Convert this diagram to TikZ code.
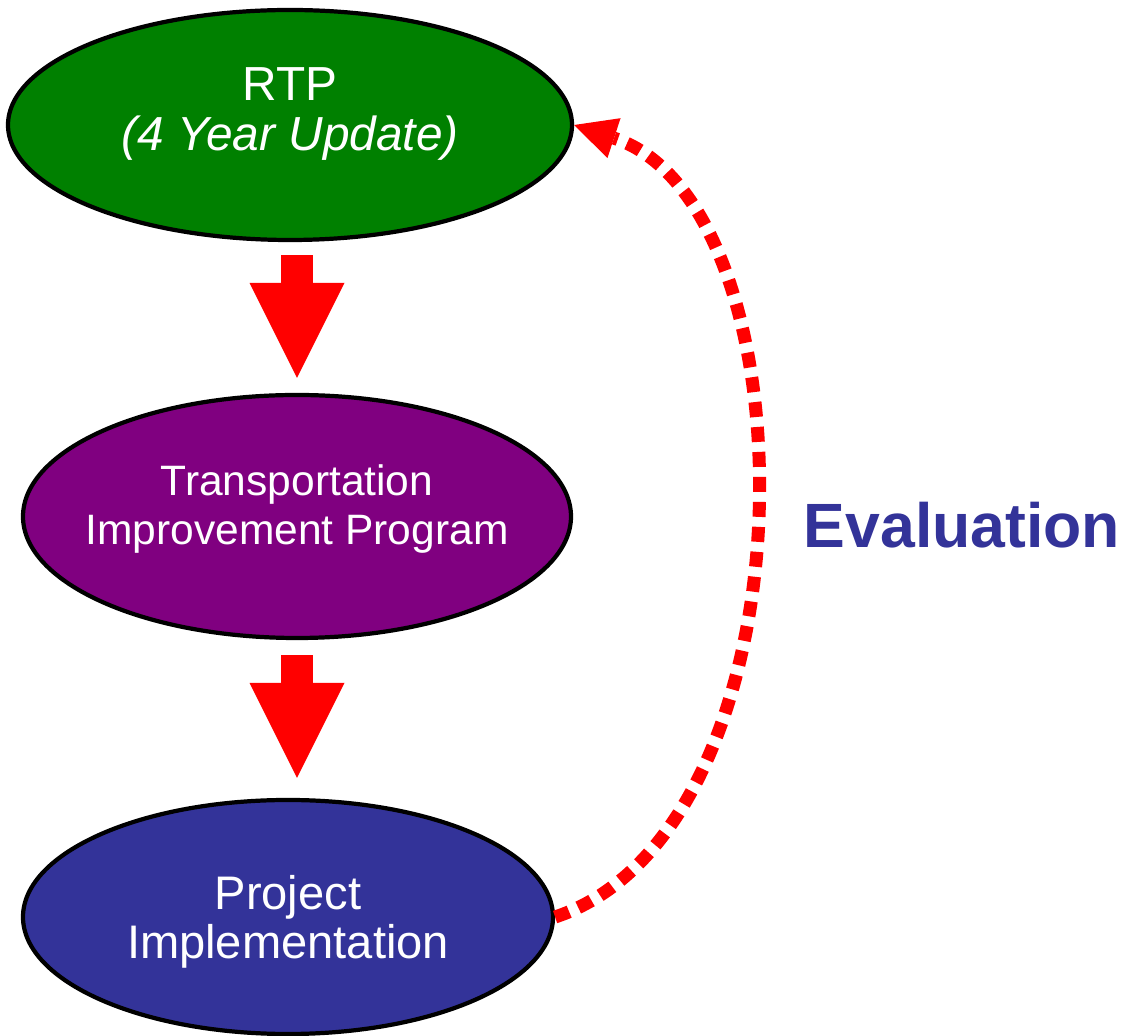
\documentclass[tikz,border=0pt]{standalone}
\usepackage{fontspec}
\setmainfont{Liberation Sans}
\usetikzlibrary{arrows.meta,shapes.geometric,calc}
\definecolor{rtpgreen}{RGB}{0,128,0}
\definecolor{tippurple}{RGB}{128,0,128}
\definecolor{projblue}{RGB}{51,51,153}
\definecolor{flowred}{RGB}{255,0,0}

\begin{document}
\begin{tikzpicture}[
  stage/.style={ellipse, draw=black, line width=1.2pt, inner sep=0pt},
  stagetext/.style={text=white, align=center, inner sep=0pt},
  flow/.style={flowred, line width=0.32cm,
               -{Triangle[length=0.95cm, width=0.95cm, line width=0pt]}},
  evalarc/.style={flowred, line width=0.13cm, dash pattern=on 0.15cm off 0.1cm,
                  -{Triangle[length=0.42cm, width=0.42cm, line width=0pt]}},
]
\useasboundingbox (0,0) rectangle (11.25,10.36);
%─── Stages ───────────────────────────────────────────────────────────────
\node[stage, fill=rtpgreen, minimum width=5.64cm, minimum height=2.30cm]
  (rtp) at (2.90, 9.11) {};
\node[stagetext, yshift=0.11cm, font=\fontsize{13.6}{14.3}\selectfont]
  (rtptext) at (rtp) {RTP\\\textit{(4 Year Update)}};
\node[stage, fill=tippurple, minimum width=5.48cm, minimum height=2.43cm]
  (tip) at (2.97, 5.195) {};
\node[stagetext, yshift=0.075cm, font=\fontsize{12.1}{13.7}\selectfont]
  (tiptext) at (tip) {Transportation\\Improvement Program};
\node[stage, fill=projblue, minimum width=5.30cm, minimum height=2.34cm]
  (proj) at (2.88, 1.19) {};
\node[stagetext, yshift=-0.05cm, font=\fontsize{13.4}{13.9}\selectfont]
  (projtext) at (proj) {Project\\Implementation};
%─── Flow arrows ──────────────────────────────────────────────────────────
\draw[flow] ($(tip.north |- rtp.south)+(0,-0.13)$) -- ($(tip.north)+(0,0.15)$);
\draw[flow] ($(tip.south)+(0,-0.15)$) -- ($(tip.south |- proj.north)+(0,0.20)$);
%─── Evaluation loop ──────────────────────────────────────────────────────
\draw[evalarc] (proj.east) .. controls (8.17,2.06) and (8.17,8.31) .. (rtp.east);
\node[font=\bfseries\fontsize{17.8}{20}\selectfont, text=projblue]
  (evallbl) at (9.62, 5.11) {Evaluation};
\end{tikzpicture}
\end{document}
